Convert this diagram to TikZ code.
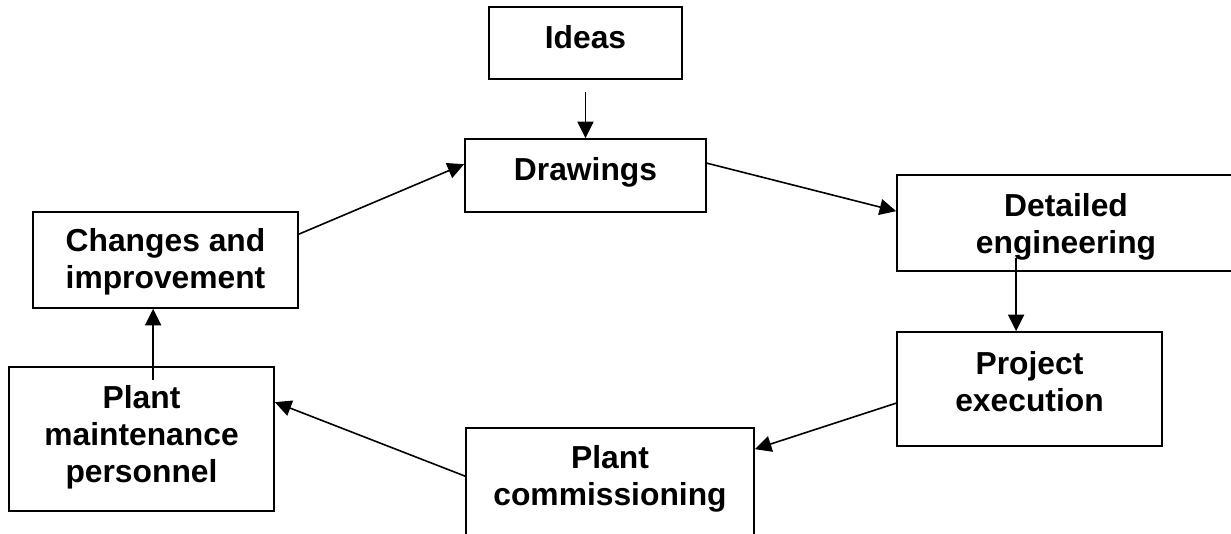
\documentclass[tikz,border=0pt]{standalone}
\usepackage{fontspec}
\setmainfont{Liberation Sans}
\usetikzlibrary{calc,arrows.meta}
\begin{document}
\begin{tikzpicture}[x=1pt,y=-1pt,
  box/.style={draw, line width=1.7pt, rectangle, inner sep=0pt},
  lbl/.style={anchor=north, inner sep=0pt, align=center,
    font=\fontsize{31.8}{37}\selectfont\bfseries},
  flow/.style={line width=1.6pt, -{Triangle[length=16.5pt,width=16pt]}}
]
\useasboundingbox (0,0) rectangle (1231,533);
\fill[white] (0,0) rectangle (1231,533);
\clip (0,0) rectangle (1231,533);

% boxes
\node[box, minimum width=193pt, minimum height=72pt]  (ideas)   at (585.5,43)   {};
\node[box, minimum width=241pt, minimum height=73pt]  (drw)     at (585.5,175.5){};
\node[box, minimum width=338pt, minimum height=96pt]  (deng)    at (1066,223)   {};
\node[box, minimum width=265pt, minimum height=114pt] (pexec)   at (1029.5,389) {};
\node[box, minimum width=288pt, minimum height=120pt] (pcomm)   at (610,488)    {};
\node[box, minimum width=265pt, minimum height=144pt] (pmaint)  at (141.5,439)  {};
\node[box, minimum width=265pt, minimum height=96pt]  (chg)     at (165.5,260)  {};

% labels
\node[lbl] (ideas-t)  at ($(ideas.north)+(0,19.5)$)  {Ideas};
\node[lbl] (drw-t)    at ($(drw.north)+(0,19.5)$)    {Drawings};
\node[lbl] (deng-t)   at ($(deng.north)+(0,19.5)$)   {Detailed\\engineering};
\node[lbl] (pexec-t)  at ($(pexec.north)+(0,20)$)    {Project\\execution};
\node[lbl] (pcomm-t)  at ($(pcomm.north)+(0,18.5)$)  {Plant\\commissioning};
\node[lbl] (pmaint-t) at ($(pmaint.north)+(0,19.5)$) {Plant\\maintenance\\personnel};
\node[lbl] (chg-t)    at ($(chg.north)+(0,17.5)$)    {Changes and\\improvement};

% connectors
\draw[flow, shorten <=12pt] (ideas.south) -- (drw.north);
\draw[flow] ($(drw.north east)+(0,25)$) -- ($(deng.north west)+(0,37)$);
\coordinate (dstart) at ($(deng.south west)+(120,-14)$);
\draw[flow] (dstart) -- (dstart |- pexec.north);
\draw[flow] ($(pexec.north west)+(0,72)$) -- ($(pcomm.north east)+(0,22)$);
\draw[flow] ($(pcomm.north west)+(0,49)$) -- ($(pmaint.north east)+(0,36)$);
\coordinate (mstart) at ($(pmaint.north west)+(145,14)$);
\draw[flow] (mstart) -- (mstart |- chg.south);
\draw[flow] ($(chg.north east)+(0,23)$) -- ($(drw.north west)+(0,26)$);
\end{tikzpicture}
\end{document}
